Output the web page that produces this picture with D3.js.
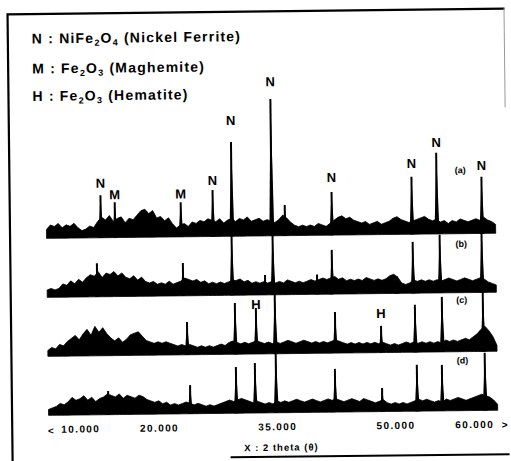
<!DOCTYPE html>
<html>
<head>
<meta charset="utf-8">
<script src="https://cdn.jsdelivr.net/npm/d3@7"></script>
<style>
  body { margin: 0; background: #fff; }
  svg { display: block; font-family: "Liberation Sans", Arial, sans-serif; }
</style>
</head>
<body>
<div id="app"></div>
<script>
// XRD patterns (a)-(d), background read every 0.5 deg of 2 theta
const thetaGrid = d3.range(6, 63.01, 0.5);
const traceNames = ["(a)", "(b)", "(c)", "(d)"];
const traceOffsets = [120, 80, 40, 0];
const traceLabelLevels = [41, 31, 33, 32];

const bgA = [6,9,8,10,7,9,8,10,7,5,6,8,7,11,14,12,15,11,13,14,10,13,12,15,18,19,16,18,13,14,11,13,9,6,8,9,7,10,9,11,10,12,11,10,12,9,11,12,10,12,11,13,10,11,12,10,11,10,9,11,14,12,9,7,6,7,6,7,6,8,7,6,8,10,12,13,11,12,10,9,8,9,7,8,9,7,8,9,11,12,10,9,8,9,10,11,12,10,9,10,8,9,7,9,8,10,9,8,9,10,9,11,9,8,6];
const bgB = [5,6,5,6,9,8,11,9,12,10,13,15,14,17,13,16,15,17,14,16,13,12,14,11,13,10,9,10,8,9,8,10,8,9,10,12,11,10,11,9,10,8,9,8,9,8,9,10,10,11,9,10,8,9,8,9,8,9,8,9,8,10,9,8,9,8,9,10,9,10,11,10,11,12,10,11,9,10,9,10,9,11,10,9,10,9,10,12,13,11,7,6,7,9,8,9,8,9,8,9,8,9,10,9,8,9,10,9,8,9,10,9,7,6,5];
const bgC = [4,6,5,8,7,10,12,14,11,15,18,14,20,16,19,15,12,10,12,9,11,14,15,16,13,10,9,8,9,8,9,8,7,6,7,6,7,6,5,6,5,6,5,6,7,6,8,9,8,7,8,7,8,9,8,7,8,7,8,7,8,9,8,7,8,9,8,7,8,7,8,7,8,9,8,7,6,7,6,7,6,7,6,7,6,7,6,5,6,5,6,7,6,7,6,7,6,7,6,7,6,8,7,8,7,8,9,8,10,12,15,17,14,10,4];
const bgD = [4,5,6,8,7,9,12,10,11,13,10,12,9,11,12,14,13,12,14,11,13,12,11,13,12,10,9,8,9,7,8,6,7,6,7,8,7,6,7,6,5,6,5,6,7,8,9,8,9,10,9,8,7,8,7,6,7,6,8,7,8,7,8,9,8,7,8,9,8,7,8,9,8,9,8,7,8,9,8,7,9,8,7,6,7,8,6,5,6,5,6,5,6,7,8,7,8,7,6,7,6,8,7,8,9,8,7,8,9,10,11,10,9,7,4];
const backgrounds = [bgA, bgB, bgC, bgD];

// sharp reflections: [2 theta, height above background line]
const peaksA = [[12.9, 28.8], [14.7, 24], [23.07, 23.5], [27.13, 31.5], [29.54, 63.9], [34.6, 92.7], [36.27, 20.8], [42.23, 29.2], [52.39, 38.9], [55.56, 55], [61.27, 38.4]];
const peaksB = [[12.35, 22.8], [23.26, 22.2], [29.48, 40.8], [33.67, 13.5], [34.68, 42], [40.27, 13.5], [42.17, 30], [50.42, 11.5], [52.45, 34.8], [55.88, 39.4], [61.2, 43.9]];
const peaksC = [[23.7, 22.2], [29.8, 34.7], [32.46, 31.2], [34.87, 42], [42.49, 27.9], [48.32, 18.1], [52.64, 32.1], [56.07, 37.3], [61.27, 39.8]];
const peaksD = [[13.59, 16], [24.0, 19.4], [29.84, 31.3], [32.25, 33.9], [34.91, 41], [42.4, 29.3], [48.36, 16], [52.8, 31.5], [55.98, 31.2], [61.43, 39.1]];
const peakSets = [peaksA, peaksB, peaksC, peaksD];

// phase marks: [2 theta, phase, intensity level of the letter]
const phaseMarks = [[12.9, "N", 154], [14.7, "M", 146], [23.07, "M", 146], [27.13, "N", 155], [29.54, "N", 195.5], [34.6, "N", 221.5], [42.23, "N", 156], [52.39, "N", 165], [55.56, "N", 179], [61.27, "N", 163], [32.46, "H", 70.5], [48.32, "H", 63.5]];

const xTicks = [10, 20, 35, 50, 60];
const xTickLabels = ["10.000", "20.000", "35.000", "50.000", "60.000"];
const xTitle = "X : 2 theta (\u03b8)";

// legend lines, [text, subscript?]
const legendLines = [
  [["N : NiFe", 0], ["2", 1], ["O", 0], ["4", 1], [" (Nickel Ferrite)", 0]],
  [["M : Fe", 0], ["2", 1], ["O", 0], ["3", 1], [" (Maghemite)", 0]],
  [["H : Fe", 0], ["2", 1], ["O", 0], ["3", 1], [" (Hematite)", 0]]
];

const width = 511, height = 461;
const svg = d3.select("#app").append("svg")
  .attr("width", width)
  .attr("height", height);

// the scanned figure is slightly tilted
const g = svg.append("g").attr("transform", "rotate(-0.65, 255, 230)");

const x = d3.scaleLinear().domain([5, 65]).range([38.6, 511.4]);
const y = d3.scaleLinear().domain([0, 240]).range([413, 59]);

// frame
g.append("path").attr("d", "M10,461V11.5H507").attr("fill", "none").attr("stroke", "#000").attr("stroke-width", 2.2);
g.append("line").attr("x1", 506.5).attr("x2", 506.5).attr("y1", 11).attr("y2", 110).attr("stroke", "#999").attr("stroke-width", 1);
g.append("line").attr("x1", 228).attr("x2", 507).attr("y1", 457).attr("y2", 457).attr("stroke", "#000").attr("stroke-width", 2);

// legend
legendLines.forEach((parts, i) => {
  const t = g.append("text")
    .attr("x", 34).attr("y", 41 + i * 27.5 + (i > 0 ? 2.5 : 0))
    .attr("font-size", 14).attr("font-weight", "bold").attr("letter-spacing", 1.2);
  parts.forEach(([s, sub], j) => {
    const prevSub = j > 0 && parts[j - 1][1];
    t.append("tspan")
      .attr("font-size", sub ? 9 : 14)
      .attr("dy", sub ? 3 : (prevSub ? -3 : 0))
      .text(s);
  });
});

// traces
backgrounds.forEach((bg, k) => {
  const off = traceOffsets[k];
  const area = d3.area()
    .x(d => x(d[0]))
    .y0(y(off))
    .y1(d => y(off + d[1]));
  g.append("path")
    .datum(thetaGrid.map((t, i) => [t, bg[i]]))
    .attr("fill", "#000")
    .attr("stroke", "#000")
    .attr("stroke-width", 0.8)
    .attr("d", area);

  peakSets[k].forEach(([t, h]) => {
    g.append("path")
      .datum([[t - 0.32, 0], [t, h], [t + 0.32, 0]])
      .attr("fill", "#000")
      .attr("d", area);
    g.append("line")
      .attr("x1", x(t)).attr("x2", x(t))
      .attr("y1", y(off)).attr("y2", y(off + h))
      .attr("stroke", "#000").attr("stroke-width", 2);
  });

  g.append("text")
    .attr("x", x(58.6)).attr("y", y(off + traceLabelLevels[k]))
    .attr("text-anchor", "middle").attr("font-size", 9).attr("font-weight", "bold")
    .text(traceNames[k]);
});

// phase letters above the peaks
phaseMarks.forEach(([t, s, lvl]) => {
  g.append("text")
    .attr("x", x(t)).attr("y", y(lvl))
    .attr("text-anchor", "middle").attr("font-size", 13).attr("font-weight", "bold")
    .text(s);
});

// x axis
const axis = g.append("g")
  .attr("transform", "translate(0,422)")
  .call(d3.axisBottom(x).tickValues(xTicks).tickSize(0)
    .tickFormat((d, i) => xTickLabels[i]));
axis.select(".domain").remove();
axis.selectAll("text")
  .attr("font-family", "Liberation Sans, Arial, sans-serif")
  .attr("font-size", 10).attr("font-weight", "bold").attr("letter-spacing", 1.4)
  .attr("dy", "0.55em");
g.append("text").attr("x", x.range()[0] + 7).attr("y", 432)
  .attr("font-size", 10).attr("font-weight", "bold").text("<");
g.append("text").attr("x", x.range()[1] - 12).attr("y", 431)
  .attr("font-size", 10).attr("font-weight", "bold").text(">");
g.append("text").attr("x", 279).attr("y", 451)
  .attr("text-anchor", "middle").attr("font-size", 9.5).attr("font-weight", "bold")
  .attr("letter-spacing", 1)
  .text(xTitle);
</script>
</body>
</html>
